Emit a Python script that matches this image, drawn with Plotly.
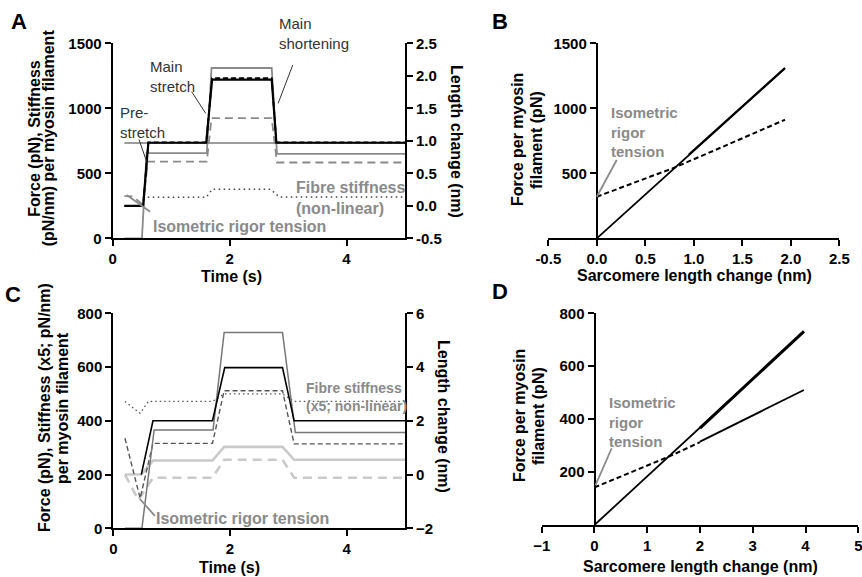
import plotly.graph_objects as go

W, H = 862, 577
FONT = "Liberation Sans, Arial, sans-serif"

# ---------------- Panel A data (time course) ----------------
tA_length = [0.2, 0.52, 0.61, 1.60, 1.70, 2.72, 2.80, 5.0]
A_length_nm = [0.0, 0.0, 0.97, 0.97, 1.94, 1.94, 0.97, 0.97]
tA_force = [0.2, 0.50, 0.58, 1.61, 1.69, 2.72, 2.81, 5.0]
A_force_gray = [0, 0, 655, 655, 1310, 1310, 650, 650]
tA_force_dash = [0.2, 0.52, 0.61, 1.60, 1.70, 2.72, 2.80, 5.0]
A_force_black_dash = [248, 248, 738, 738, 1232, 1232, 738, 738]
tA_gray_dash = [0.2, 0.35, 0.52, 0.60, 1.61, 1.69, 2.72, 2.81, 5.0]
A_gray_dash = [325, 322, 255, 590, 590, 925, 925, 583, 583]
tA_stiff = [0.60, 1.60, 1.70, 2.70, 2.85, 5.0]
A_stiffness = [315, 315, 377, 377, 318, 318]
tA_ref = [0.2, 5.0]
A_ref = [733, 733]

# ---------------- Panel B data ----------------
B_solid_x = [0.0, 1.94]
B_solid_y = [0, 1308]
B_overlap_x = [0.95, 1.94]
B_overlap_y = [645, 1310]
B_dash_x = [0.0, 0.40, 0.78, 1.20, 1.60, 1.94]
B_dash_y = [320, 430, 538, 672, 800, 912]

# ---------------- Panel C data (time course) ----------------
tC_length = [0.48, 0.68, 1.70, 1.91, 2.90, 3.10, 5.0]
C_length_nm = [0.0, 2.0, 2.0, 3.98, 3.98, 2.0, 2.0]
tC_force = [0.2, 0.49, 0.70, 1.71, 1.90, 2.90, 3.12, 5.0]
C_force_gray = [0, 0, 366, 366, 729, 729, 356, 356]
tC_dark_dash = [0.2, 0.46, 0.68, 1.70, 1.90, 2.90, 3.10, 5.0]
C_dark_dash = [335, 112, 316, 316, 512, 512, 314, 314]
tC_stiff = [0.2, 0.46, 0.60, 1.70, 1.90, 2.90, 3.10, 5.0]
C_stiffness = [472, 428, 472, 472, 500, 500, 472, 472]
tC_light = [0.2, 0.48, 0.68, 1.70, 1.90, 2.90, 3.10, 5.0]
C_light_solid = [200, 200, 252, 252, 303, 303, 255, 255]
tC_light_dash = [0.2, 0.43, 0.68, 1.70, 1.90, 2.90, 3.10, 5.0]
C_light_dash = [200, 105, 188, 188, 255, 255, 188, 188]

# ---------------- Panel D data ----------------
D_solid_x = [0.0, 3.97]
D_solid_y = [0, 731]
D_overlap_x = [2.0, 3.97]
D_overlap_y = [366, 732]
D_dash_x = [0.0, 1.45, 2.0]
D_dash_y = [142, 262, 313]
D_solid2_x = [2.0, 3.97]
D_solid2_y = [315, 510]

# tick definitions
A_xticks = [0, 2, 4]
A_yticks = [0, 500, 1000, 1500]
A_y2ticks = [-0.5, 0.0, 0.5, 1.0, 1.5, 2.0, 2.5]
B_xticks = [-0.5, 0.0, 0.5, 1.0, 1.5, 2.0, 2.5]
B_yticks = [500, 1000, 1500]
C_xticks = [0, 2, 4]
C_yticks = [0, 200, 400, 600, 800]
C_y2ticks = [-2, 0, 2, 4, 6]
D_xticks = [-1, 0, 1, 2, 3, 4, 5]
D_yticks = [200, 400, 600, 800]


def px(x):
    return x / W


def py(y):
    return 1 - y / H


fig = go.Figure()


def line(x, y, xa, ya, color, width, dash=None):
    d = dict(color=color, width=width)
    if dash:
        d["dash"] = dash
    fig.add_trace(go.Scatter(x=x, y=y, xaxis=xa, yaxis=ya, mode="lines",
                             line=d, showlegend=False, hoverinfo="skip",
                             cliponaxis=False))


# Panel A
line(tA_ref, A_ref, "x", "y", "#7a7a7a", 1.3)
line(tA_force, A_force_gray, "x", "y", "#8a8a8a", 1.8)
line(tA_gray_dash, A_gray_dash, "x", "y", "#8a8a8a", 1.8, "8px,5px")
line(tA_stiff, A_stiffness, "x", "y", "#444444", 1.5, "1.5px,3.5px")
line(tA_length, A_length_nm, "x", "y2", "#000000", 2.2)
line(tA_force_dash, A_force_black_dash, "x", "y", "#000000", 1.8, "5px,3px")

# Panel B
line(B_solid_x, B_solid_y, "x2", "y3", "#000000", 1.8)
line(B_overlap_x, B_overlap_y, "x2", "y3", "#000000", 2.2)
line(B_dash_x, B_dash_y, "x2", "y3", "#000000", 2.0, "5px,3px")

# Panel C
line(tC_light, C_light_solid, "x3", "y4", "#cacaca", 2.6)
line(tC_light_dash, C_light_dash, "x3", "y4", "#cacaca", 2.6, "9px,6px")
line(tC_stiff, C_stiffness, "x3", "y4", "#555555", 1.3, "1.5px,3px")
line(tC_dark_dash, C_dark_dash, "x3", "y4", "#555555", 1.4, "5px,3px")
line(tC_force, C_force_gray, "x3", "y4", "#777777", 1.5)
line(tC_length, C_length_nm, "x3", "y5", "#000000", 1.6)

# Panel D
line(D_solid_x, D_solid_y, "x4", "y6", "#000000", 1.8)
line(D_overlap_x, D_overlap_y, "x4", "y6", "#000000", 3.0)
line(D_dash_x, D_dash_y, "x4", "y6", "#000000", 2.0, "5px,3px")
line(D_solid2_x, D_solid2_y, "x4", "y6", "#000000", 1.8)

tickfont = dict(family=FONT, size=15, color="black", weight="bold")
axis_common = dict(showline=True, linecolor="black", linewidth=2, ticks="outside",
                   ticklen=6, tickwidth=2, tickcolor="black", showgrid=False,
                   zeroline=False, tickfont=tickfont, fixedrange=True,
                   automargin=False, ticklabeloverflow="allow")


def fmt1(v):
    return f"{v:.1f}"


# domains from pixel positions
A_xdom = [px(112.7), px(405.0)]
A_ydom = [py(238.3), py(43.3)]
B_xdom = [px(548.3), px(839.3)]
C_xdom = [px(113.3), px(405.0)]
C_ydom = [py(528.3), py(313.3)]
D_xdom = [px(541.7), px(858.3)]
D_ydom = [py(525.0), py(313.3)]

fig.update_layout(
    template="none",
    width=W, height=H,
    margin=dict(l=0, r=0, t=0, b=0, pad=0, autoexpand=False),
    paper_bgcolor="white", plot_bgcolor="rgba(0,0,0,0)",
    showlegend=False,
    font=dict(family=FONT, color="black"),
    xaxis=dict(domain=A_xdom, range=[0, 5], tickvals=A_xticks, anchor="y", **axis_common),
    yaxis=dict(domain=A_ydom, range=[0, 1500], tickvals=A_yticks, anchor="x", **axis_common),
    yaxis2=dict(range=[-0.5, 2.5], tickvals=A_y2ticks, ticktext=[fmt1(v) for v in A_y2ticks],
                overlaying="y", side="right", anchor="x", **axis_common),
    xaxis2=dict(domain=B_xdom, range=[-0.5, 2.5], tickvals=B_xticks,
                ticktext=[fmt1(v) for v in B_xticks], anchor="y3", **axis_common),
    yaxis3=dict(domain=A_ydom, range=[0, 1500], tickvals=B_yticks, anchor="free",
                position=px(596.8), **axis_common),
    xaxis3=dict(domain=C_xdom, range=[0, 5], tickvals=C_xticks, anchor="y4", **axis_common),
    yaxis4=dict(domain=C_ydom, range=[0, 800], tickvals=C_yticks, anchor="x3", **axis_common),
    yaxis5=dict(range=[-2, 6], tickvals=C_y2ticks, overlaying="y4", side="right",
                anchor="x3", **axis_common),
    xaxis4=dict(domain=D_xdom, range=[-1, 5], tickvals=D_xticks, anchor="y6", **axis_common),
    yaxis6=dict(domain=D_ydom, range=[0, 800], tickvals=D_yticks, anchor="free",
                position=px(594.5), **axis_common),
)

annotations = []


def text(s, x, y, size=15, color="black", bold=True, xanchor="center",
         yanchor="middle", angle=0, align="center"):
    t = f"<b>{s}</b>" if bold else s
    annotations.append(dict(text=t, x=px(x), y=py(y), xref="paper", yref="paper",
                            showarrow=False, xanchor=xanchor, yanchor=yanchor,
                            textangle=angle, align=align,
                            font=dict(family=FONT, size=size, color=color)))


# panel letters
text("A", 18.5, 21.5, size=22)
text("B", 500, 21.5, size=22)
text("C", 13, 294, size=22)
text("D", 500, 291.5, size=22)

# axis titles
text("Force (pN), Stiffness", 33.7, 138, angle=-90, size=16)
text("(pN/nm) per myosin filament", 48.3, 138, angle=-90, size=16)
text("Length change (nm)", 456, 141, angle=90, size=16)
text("Time (s)", 231, 277, size=16)
text("Force per myosin", 518, 140, angle=-90, size=16)
text("filament (pN)", 537, 140, angle=-90, size=16)
text("Sarcomere length change (nm)", 694, 275, size=16)
text("Force (pN), Stiffness (x5; pN/nm)", 44, 408, angle=-90, size=16)
text("per myosin filament", 62, 408, angle=-90, size=16)
text("Length change (nm)", 444, 417, angle=90, size=16)
text("Time (s)", 230, 567, size=16)
text("Force per myosin", 519, 416, angle=-90, size=16)
text("filament (pN)", 538, 416, angle=-90, size=16)
text("Sarcomere length change (nm)", 700, 566, size=16)

# in-plot labels
dark = "#333333"
grey = "#8a8a8a"
text("Main<br>shortening", 277, 33.5, bold=False, color=dark, xanchor="left", align="left")
text("Main<br>stretch", 148, 76.5, bold=False, color=dark, xanchor="left", align="left")
text("Pre-<br>stretch", 118, 122, bold=False, color=dark, xanchor="left", align="left")
text("Fibre stiffness<br>(non-linear)", 294, 198, size=16, color=grey, xanchor="left", align="left")
text("Isometric rigor tension", 151, 226.5, size=16, color=grey, xanchor="left")
text("Isometric<br>rigor<br>tension", 609, 132, size=15, color=grey, xanchor="left", align="left")
text("Fibre stiffness<br>(x5; non-linear)", 304, 397, size=14, color=grey, xanchor="left", align="left")
text("Isometric rigor tension", 154, 518.5, size=16, color=grey, xanchor="left")
text("Isometric<br>rigor<br>tension", 607, 422, size=15, color=grey, xanchor="left", align="left")

fig.update_layout(annotations=annotations)

# pointer lines (data coordinates)
shapes = []


def pointer(x0, y0, x1, y1, xref, yref, color, width):
    shapes.append(dict(type="line", x0=x0, y0=y0, x1=x1, y1=y1, xref=xref, yref=yref,
                       line=dict(color=color, width=width)))


pointer(1.35, 1128, 1.59, 962, "x", "y", dark, 1)
pointer(3.08, 1333, 2.83, 1038, "x", "y", dark, 1)
pointer(0.45, 760, 0.58, 590, "x", "y", dark, 1)
pointer(0.24, 333, 0.64, 205, "x", "y", grey, 1.8)
pointer(0.205, 602, 0.0, 320, "x2", "y3", grey, 1.8)
pointer(0.713, 46, 0.456, 109, "x3", "y4", grey, 1.8)
pointer(0.326, 290, 0.02, 151, "x4", "y6", grey, 1.8)

fig.update_layout(shapes=shapes)

fig.write_html("out.html", config={"displayModeBar": False},
               post_script="document.body.style.margin='0px';")
